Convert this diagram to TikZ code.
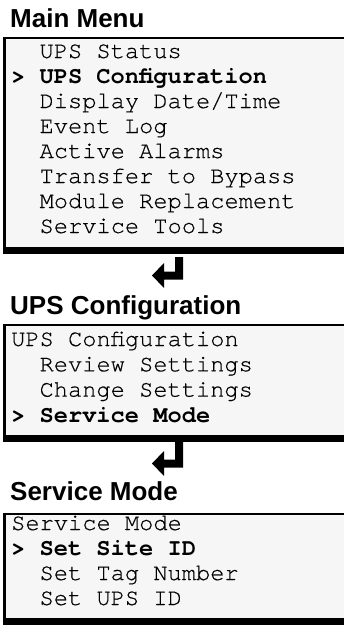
\documentclass[tikz,border=0pt]{standalone}
\usepackage{fontspec}
\newfontfamily\curfont{texgyrecursor}[Extension=.otf, UprightFont=*-regular, BoldFont=*-bold, UprightFeatures={FakeBold=0.4}]
\newfontfamily\titlefont{Liberation Sans}
\definecolor{boxbg}{HTML}{F6F6F6}
\tikzset{
  mono/.style={anchor=base west, inner sep=0pt, font=\curfont\fontsize{23.7}{24}\selectfont},
  monob/.style={mono, font=\curfont\bfseries\fontsize{23.7}{24}\selectfont},
  ttl/.style={anchor=base west, inner sep=0pt, font=\titlefont\bfseries\fontsize{26}{28}\selectfont},
  retarrow/.style={fill=black, draw=none}
}
\newcommand{\menubox}[2]{%
  \fill[boxbg] (3,#1) rectangle (344,#2);
  \fill[black] (3,#1-1) rectangle (344,#1+1.2);
  \fill[black] (3,#1-1) rectangle (5.6,#2);
  \fill[black] (3,#2-7) rectangle (344,#2);
}
\begin{document}
\begin{tikzpicture}[x=1pt,y=-1pt]
\useasboundingbox (0,0) rectangle (344,625);
\fill[white] (0,0) rectangle (344,625);

% ---------- Main Menu ----------
\node[ttl] (t1) at (10,27) {Main Menu};
\menubox{38}{254}
\node[mono]  (a1) at (39.4,58)  {UPS Status};
\node[monob] (p1) at (11,83)  {>};
\node[monob] (a2) at (39.4,83) {UPS Configuration};
\node[mono]  (a3) at (39.4,108) {Display Date/Time};
\node[mono]  (a4) at (39.4,133) {Event Log};
\node[mono]  (a5) at (39.4,158) {Active Alarms};
\node[mono]  (a6) at (39.4,183)   {Transfer to Bypass};
\node[mono]  (a7) at (39.4,208) {Module Replacement};
\node[mono]  (a8) at (39.4,233) {Service Tools};

% return arrow 1
\fill[retarrow] (175,257) -- (183,257) -- (183,279.5) -- (164,279.5) -- (164,288)
  -- (152,275.5) -- (164,263) -- (164,271.5) -- (175,271.5) -- cycle;

% ---------- UPS Configuration ----------
\node[ttl] (t2) at (10,314) {UPS Configuration};
\menubox{325}{442}
\node[mono]  (b1) at (11,346)    {UPS Configuration};
\node[mono]  (b2) at (39.4,371.3) {Review Settings};
\node[mono]  (b3) at (39.4,396.6)  {Change Settings};
\node[monob] (p2) at (11,422)  {>};
\node[monob] (b4) at (39.4,422) {Service Mode};

% return arrow 2
\fill[retarrow] (175,442) -- (183,442) -- (183,467.5) -- (164,467.5) -- (164,476)
  -- (152,463.5) -- (164,451) -- (164,459.5) -- (175,459.5) -- cycle;

% ---------- Service Mode ----------
\node[ttl] (t3) at (10,500) {Service Mode};
\menubox{514}{625}
\node[mono]  (c1) at (11,530)    {Service Mode};
\node[monob] (p3) at (11,555)    {>};
\node[monob] (c2) at (39.4,555)  {Set Site ID};
\node[mono]  (c3) at (39.4,580)  {Set Tag Number};
\node[mono]  (c4) at (39.4,605)  {Set UPS ID};
\end{tikzpicture}
\end{document}
